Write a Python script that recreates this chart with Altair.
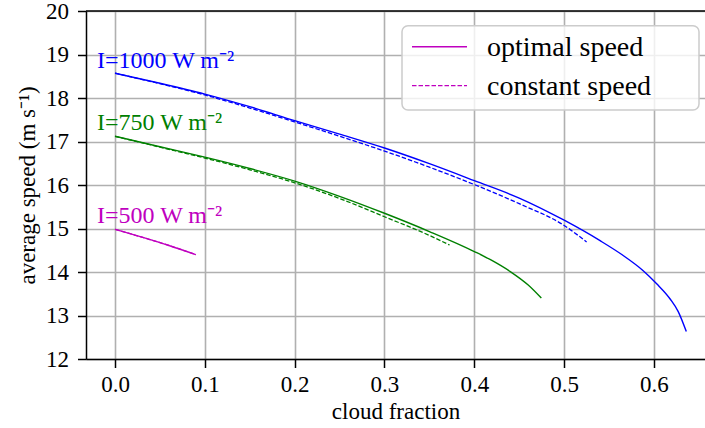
import altair as alt
import pandas as pd

FONT = "Liberation Serif"

# Average speed versus cloud fraction for three irradiance levels
cf_1000_opt = [0.0, 0.05, 0.1, 0.15, 0.2, 0.25, 0.3, 0.35, 0.4, 0.45, 0.5, 0.54, 0.565, 0.588, 0.603, 0.618, 0.627, 0.636]
v_1000_opt = [18.57, 18.34, 18.09, 17.80, 17.48, 17.17, 16.85, 16.49, 16.10, 15.70, 15.19, 14.72, 14.39, 14.03, 13.73, 13.38, 13.09, 12.63]

cf_1000_const = [0.0, 0.05, 0.1, 0.15, 0.2, 0.25, 0.3, 0.35, 0.4, 0.45, 0.5, 0.525]
v_1000_const = [18.57, 18.33, 18.07, 17.77, 17.45, 17.12, 16.78, 16.41, 16.01, 15.57, 15.07, 14.69]

cf_750_opt = [0.0, 0.05, 0.1, 0.15, 0.2, 0.25, 0.3, 0.35, 0.4, 0.42, 0.44, 0.46, 0.4746]
v_750_opt = [17.12, 16.88, 16.64, 16.38, 16.09, 15.74, 15.35, 14.93, 14.47, 14.26, 14.01, 13.70, 13.40]

cf_750_const = [0.0, 0.05, 0.1, 0.15, 0.2, 0.25, 0.3, 0.35, 0.3725]
v_750_const = [17.12, 16.87, 16.62, 16.35, 16.05, 15.69, 15.27, 14.84, 14.62]

cf_500_opt = [0.0, 0.03, 0.06, 0.09]
v_500_opt = [14.98, 14.80, 14.61, 14.40]

cf_500_const = [0.0, 0.03, 0.06, 0.09]
v_500_const = [14.98, 14.80, 14.61, 14.40]

series_names = ["I=1000", "I=750", "I=500"]
series_colors = ["#0000ff", "#008000", "#bf00bf"]

# Curve annotations
label_texts = ["I=1000 W m\u207b\u00b2", "I=750 W m\u207b\u00b2", "I=500 W m\u207b\u00b2"]
label_x = [-0.02, -0.02, -0.02]
label_y = [18.69, 17.26, 15.13]

x_ticks = [0.0, 0.1, 0.2, 0.3, 0.4, 0.5, 0.6]
y_ticks = [12, 13, 14, 15, 16, 17, 18, 19, 20]


def frame(name, kind, cf, v):
    return pd.DataFrame({"cf": cf, "speed": v, "series": name, "kind": kind})


opt_df = pd.concat([
    frame("I=1000", "optimal speed", cf_1000_opt, v_1000_opt),
    frame("I=750", "optimal speed", cf_750_opt, v_750_opt),
    frame("I=500", "optimal speed", cf_500_opt, v_500_opt),
])
const_df = pd.concat([
    frame("I=1000", "constant speed", cf_1000_const, v_1000_const),
    frame("I=750", "constant speed", cf_750_const, v_750_const),
    frame("I=500", "constant speed", cf_500_const, v_500_const),
])
labels_df = pd.DataFrame({"text": label_texts, "cf": label_x, "speed": label_y, "series": series_names})

W, H = 619, 348
x_scale = alt.Scale(domain=[-0.0323, 0.6568], nice=False, zero=False)
y_scale = alt.Scale(domain=[12, 20], nice=False, zero=False)
color_scale = alt.Scale(domain=series_names, range=series_colors)

axis_common = dict(
    grid=True, gridColor="#b0b0b0", gridWidth=1.6,
    domainColor="black", domainWidth=1.5,
    tickColor="black", tickWidth=1.5, tickSize=8.5,
    labelFont=FONT, labelFontSize=23, labelColor="black",
    titleFont=FONT, titleFontSize=23, titleFontWeight="normal", titleColor="black",
)

x_enc = alt.X("cf:Q", scale=x_scale,
              axis=alt.Axis(values=x_ticks, format=".1f", title="cloud fraction",
                            labelPadding=6, titlePadding=4, **axis_common))
y_enc = alt.Y("speed:Q", scale=y_scale,
              axis=alt.Axis(values=y_ticks, format="d", title="average speed (m s\u207b\u00b9)",
                            labelPadding=9, titlePadding=6, **axis_common))

dashed = alt.Chart(const_df).mark_line(
    strokeWidth=1.3, strokeDash=[4.5, 2], interpolate="monotone"
).encode(
    x=x_enc, y=y_enc,
    color=alt.Color("series:N", scale=color_scale, legend=None),
    detail="series:N",
)
solid = alt.Chart(opt_df).mark_line(strokeWidth=1.4, interpolate="monotone").encode(
    x="cf:Q", y="speed:Q",
    color=alt.Color("series:N", scale=color_scale, legend=None),
    detail="series:N",
)
labels = alt.Chart(labels_df).mark_text(
    font=FONT, fontSize=24, align="left", baseline="alphabetic"
).encode(
    x="cf:Q", y="speed:Q", text="text:N",
    color=alt.Color("series:N", scale=color_scale, legend=None),
)

one = pd.DataFrame({"k": [0]})

# Top spine of the frame
top_spine = alt.Chart(one).mark_rule(color="black", strokeWidth=1.5).encode(
    x=alt.value(0), x2=alt.value(W), y=alt.value(0)
)

# Legend box with line samples
legend_box = alt.Chart(one).mark_rect(
    cornerRadius=6, fill="white", fillOpacity=0.8, stroke="#cccccc", strokeWidth=1.5
).encode(x=alt.value(316), x2=alt.value(613), y=alt.value(14.7), y2=alt.value(99))
legend_solid = alt.Chart(one).mark_rule(color="#bf00bf", strokeWidth=1.4).encode(
    x=alt.value(326), x2=alt.value(381), y=alt.value(35.7)
)
legend_dashed = alt.Chart(one).mark_rule(color="#bf00bf", strokeWidth=1.3, strokeDash=[4.5, 2]).encode(
    x=alt.value(326), x2=alt.value(381), y=alt.value(74.7)
)
legend_text1 = alt.Chart(one).mark_text(
    text="optimal speed", font=FONT, fontSize=28, align="left", baseline="alphabetic", color="black"
).encode(x=alt.value(401), y=alt.value(44.7))
legend_text2 = alt.Chart(one).mark_text(
    text="constant speed", font=FONT, fontSize=28, align="left", baseline="alphabetic", color="black"
).encode(x=alt.value(401), y=alt.value(84))

chart = alt.layer(
    dashed, solid, labels, top_spine,
    legend_box, legend_solid, legend_dashed, legend_text1, legend_text2,
).properties(
    width=W, height=H,
    autosize=alt.AutoSizeParams(type="none"),
    padding={"left": 86, "top": 11, "right": 0, "bottom": 69},
    background="white",
).configure_view(stroke=None)

chart.save("out.html", embed_options={"renderer": "svg", "actions": False})
